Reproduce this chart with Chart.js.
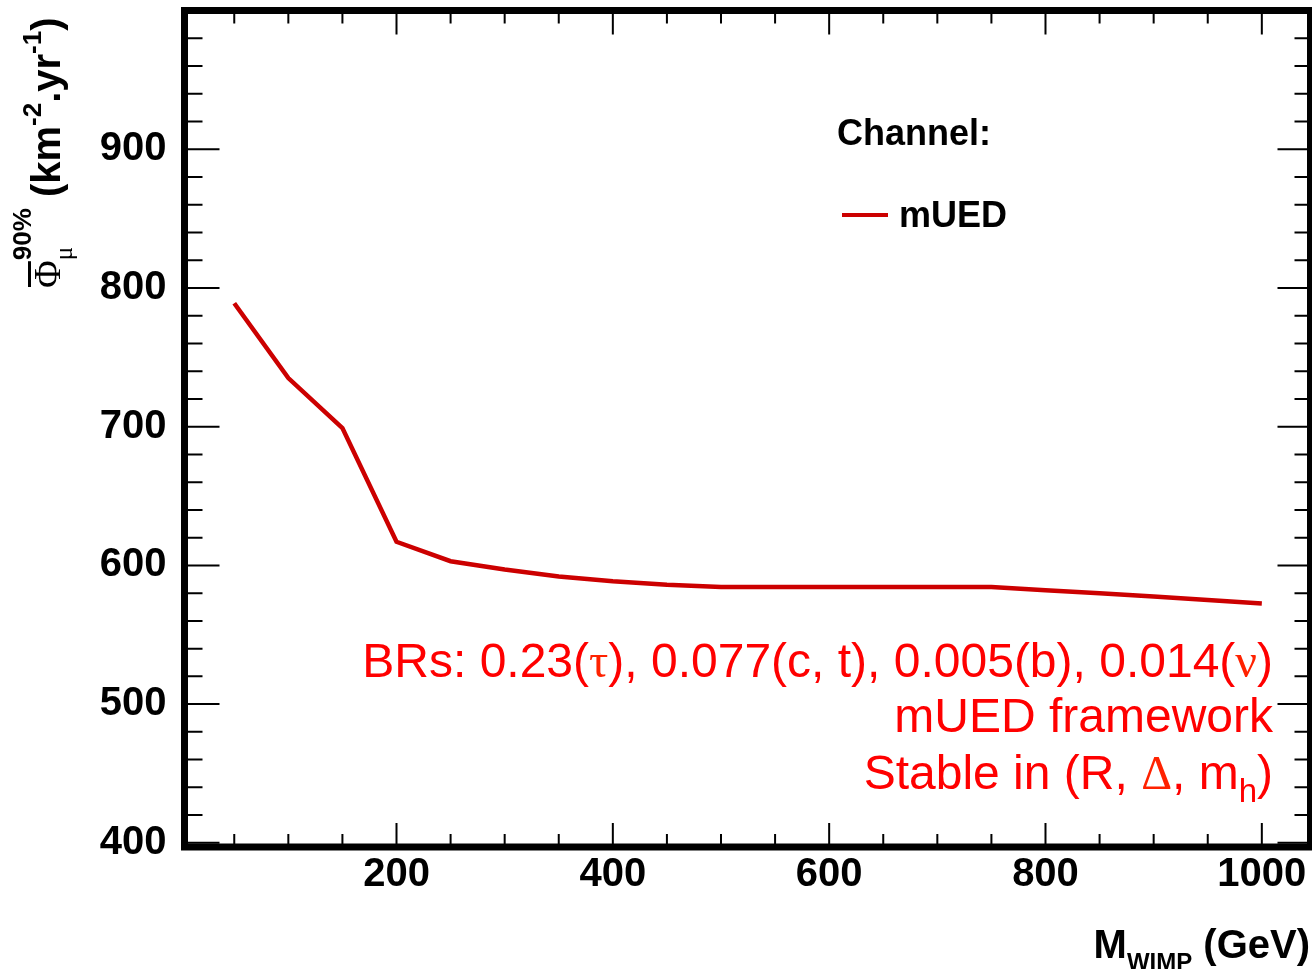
<!DOCTYPE html>
<html>
<head>
<meta charset="utf-8">
<script src="https://cdn.jsdelivr.net/npm/chart.js@4"></script>
<style>
    html, body { margin: 0; padding: 0; background: #fff; }
    canvas { display: block; }
</style>
</head>
<body>
<canvas id="limitChart" width="1312" height="969"></canvas>
<script>
// M_WIMP (GeV) and the 90% CL muon flux limit (km^-2 yr^-1)
const massGeV = [50, 100, 150, 200, 250, 300, 350, 400, 450, 500, 550, 600, 650, 700, 750, 800, 850, 900, 950, 1000];
const fluxLimit = [789, 735, 699, 617, 603, 597, 592, 588.5, 586, 584.5, 584.5, 584.5, 584.5, 584.5, 584.5, 582, 580, 577.5, 575, 572.5];

const xTickValues = [200, 400, 600, 800, 1000];
const yTickValues = [400, 500, 600, 700, 800, 900];
const xMinorStep = 50;
const yMinorStep = 20;

const seriesLabel = "mUED";
const legendTitle = "Channel:";
const noteLines = [
    [{ text: "BRs: 0.23(" }, { text: "τ", greek: true }, { text: "), 0.077(c, t), 0.005(b), 0.014(" }, { text: "ν", greek: true }, { text: ")" }],
    [{ text: "mUED framework" }],
    [{ text: "Stable in (R, " }, { text: "Δ", greek: true }, { text: ", m" }, { text: "h", sub: true }, { text: ")" }],
];

const SANS = '"Liberation Sans", Arial, Helvetica, sans-serif';
const SERIF = '"Liberation Serif", "Times New Roman", serif';
const LINE_RED = "#cc0000";
const TEXT_RED = "#ff0000";

let limitChart = {};

// draws a run of text pieces on one baseline, sup/sub pieces shifted
limitChart.drawRich = function (ctx, parts, x, y, align) {
    let width = 0;
    for (const p of parts) {
        ctx.font = p.font;
        if (!p.noAdvance) width += ctx.measureText(p.text).width;
    }
    let cx = align === "right" ? x - width : x;
    for (const p of parts) {
        ctx.font = p.font;
        ctx.fillStyle = p.color || "#000";
        ctx.fillText(p.text, cx, y + (p.dy || 0));
        if (p.bar) {
            const w = ctx.measureText(p.text).width;
            ctx.fillRect(cx + 1, y + p.bar, w - 2, 3);
        }
        if (!p.noAdvance) cx += ctx.measureText(p.text).width;
    }
};

limitChart.frame = {
    id: "rootFrame",
    afterDatasetsDraw(chart) {
        const { ctx, chartArea: a } = chart;
        const x = chart.scales.x;
        const y = chart.scales.y;
        ctx.save();
        ctx.strokeStyle = "#000";
        ctx.lineWidth = 2;
        ctx.beginPath();
        for (let v = xMinorStep; v <= x.max; v += xMinorStep) {
            const px = x.getPixelForValue(v);
            const major = xTickValues.includes(v);
            ctx.moveTo(px, a.bottom);
            ctx.lineTo(px, a.bottom - (major ? 24 : 13));
            ctx.moveTo(px, a.top);
            ctx.lineTo(px, a.top + (major ? 24 : 13));
        }
        for (let v = yTickValues[0]; v < y.max; v += yMinorStep) {
            const py = y.getPixelForValue(v);
            const major = yTickValues.includes(v);
            ctx.moveTo(a.left, py);
            ctx.lineTo(a.left + (major ? 35 : 18), py);
            ctx.moveTo(a.right, py);
            ctx.lineTo(a.right - (major ? 33 : 16), py);
        }
        ctx.stroke();

        ctx.lineWidth = 7;
        ctx.strokeRect(a.left, a.top, a.right - a.left, a.bottom - a.top);
        ctx.restore();
    },
    afterDraw(chart) {
        const ctx = chart.ctx;
        ctx.save();
        ctx.textBaseline = "alphabetic";

        // legend
        ctx.font = "bold 36px " + SANS;
        ctx.fillStyle = "#000";
        ctx.fillText(legendTitle, 837, 145);
        ctx.fillText(seriesLabel, 899, 227);
        ctx.strokeStyle = chart.data.datasets[0].borderColor;
        ctx.lineWidth = 4;
        ctx.beginPath();
        ctx.moveTo(842, 215);
        ctx.lineTo(888, 215);
        ctx.stroke();

        // red notes, right aligned
        const baselines = [677, 732, 789];
        noteLines.forEach((line, i) => {
            const parts = line.map((p) => ({
                text: p.text,
                font: p.greek ? "48px " + SERIF : p.sub ? "33px " + SANS : "48px " + SANS,
                dy: p.sub ? 13 : 0,
                color: p.greek ? "#ff2200" : TEXT_RED,
            }));
            limitChart.drawRich(ctx, parts, 1273, baselines[i], "right");
        });

        // x title
        const big = "bold 40px " + SANS;
        const small = "bold 24px " + SANS;
        const sup = "bold 26px " + SANS;
        limitChart.drawRich(ctx, [
            { text: "M", font: big },
            { text: "WIMP", font: small, dy: 12 },
            { text: " (GeV)", font: big },
        ], 1310, 958, "right");

        // y title, rotated
        ctx.translate(60, 288);
        ctx.rotate(-Math.PI / 2);
        limitChart.drawRich(ctx, [
            { text: "Φ", font: "38px " + SERIF, bar: -32 },
            { text: "μ", font: "25px " + SERIF, dy: 12, noAdvance: true },
            { text: "90%", font: sup, dy: -29 },
            { text: " (km", font: big },
            { text: "-2", font: sup, dy: -19 },
            { text: ".yr", font: big },
            { text: "-1", font: sup, dy: -19 },
            { text: ")", font: big },
        ], 0, 0, "left");
        ctx.restore();
    },
};

limitChart.tickFont = { family: SANS, size: 40, weight: "bold" };

limitChart.CONFIG = {
    type: "line",
    data: {
        datasets: [
            {
                label: seriesLabel,
                data: massGeV.map((m, i) => ({ x: m, y: fluxLimit[i] })),
                borderColor: LINE_RED,
                borderWidth: 4.5,
                pointRadius: 0,
                tension: 0,
                fill: false,
            },
        ],
    },
    options: {
        responsive: false,
        animation: false,
        devicePixelRatio: 1,
        layout: { padding: { top: 10.5, right: 1.5, bottom: 0, left: 0 } },
        plugins: {
            legend: { display: false },
            tooltip: { enabled: false },
        },
        scales: {
            x: {
                type: "linear",
                min: 4,
                max: 1045,
                grid: { display: false, drawTicks: false },
                border: { display: false },
                ticks: {
                    color: "#000",
                    font: limitChart.tickFont,
                    padding: 4,
                    maxRotation: 0,
                    autoSkip: false,
                    callback: (v) => String(v),
                },
                afterBuildTicks: (scale) => {
                    scale.ticks = xTickValues.map((v) => ({ value: v }));
                },
                afterFit: (scale) => {
                    scale.height = 122;
                    scale.paddingLeft = 0;
                    scale.paddingRight = 0;
                },
            },
            y: {
                type: "linear",
                min: 397,
                max: 1000,
                grid: { display: false, drawTicks: false },
                border: { display: false },
                ticks: {
                    color: "#000",
                    font: limitChart.tickFont,
                    padding: 18,
                    autoSkip: false,
                    callback: (v) => String(v),
                },
                afterBuildTicks: (scale) => {
                    scale.ticks = yTickValues.map((v) => ({ value: v }));
                },
                afterFit: (scale) => {
                    scale.width = 184.5;
                    scale.paddingTop = 0;
                    scale.paddingBottom = 0;
                },
            },
        },
    },
    plugins: [limitChart.frame],
};

limitChart.chart = new Chart(document.getElementById("limitChart"), limitChart.CONFIG);
</script>
</body>
</html>
